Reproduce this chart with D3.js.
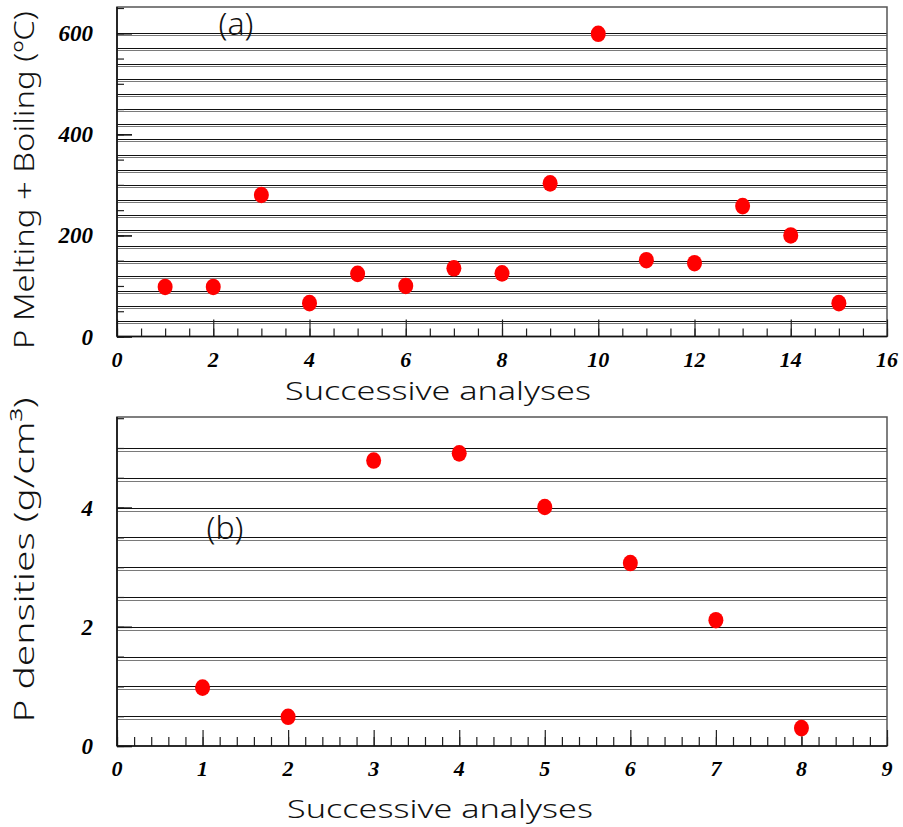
<!DOCTYPE html>
<html>
<head>
<meta charset="utf-8">
<script src="https://cdn.jsdelivr.net/npm/d3@7"></script>
<style>
  html, body { margin: 0; padding: 0; background: #fff; }
  svg { display: block; }
</style>
</head>
<body>
<svg id="chart" width="903" height="827"></svg>
<script>
// ---- Data ----
const analysesA = [1, 2, 3, 4, 5, 6, 7, 8, 9, 10, 11, 12, 13, 14, 15];
const meltBoil = [98, 98, 280, 66, 124, 100, 135, 125, 303, 599, 151, 145, 258, 200, 66];
const analysesB = [1, 2, 3, 4, 5, 6, 7, 8];
const densities = [0.98, 0.49, 4.79, 4.91, 4.01, 3.07, 2.11, 0.30];

const xTicksA = [0, 2, 4, 6, 8, 10, 12, 14, 16];
const yTicksA = [0, 200, 400, 600];
const xTicksB = [0, 1, 2, 3, 4, 5, 6, 7, 8, 9];
const yTicksB = [0, 2, 4];
const hLinesA = [30, 60, 90, 120, 150, 180, 210, 240, 270, 300, 330, 360, 390, 420, 450, 480, 510, 540, 570, 600];
const hLinesB = [0.5, 1.0, 1.5, 2.0, 2.5, 3.0, 3.5, 4.0, 4.5, 5.0];

const titleA = "(a)";
const titleB = "(b)";
const xTitle = "Successive analyses";
const yTitleA = "P Melting + Boiling (\u00BAC)";
const yTitleB = "P densities (g/cm\u00B3)";

const svg = d3.select("#chart");
const sansFont = "'Noto Sans', 'DejaVu Sans', sans-serif";
const numFont = "'Liberation Serif', 'DejaVu Serif', serif";

function panel(cfg) {
  const g = svg.append("g");
  const x = d3.scaleLinear().domain(cfg.xDomain).range([cfg.left, cfg.right]);
  const y = d3.scaleLinear().domain(cfg.yDomain).range([cfg.bottom, cfg.top]);

  // background horizontal line pairs
  const lines = g.append("g");
  lines.selectAll("line.k").data(cfg.hLines).join("line")
    .attr("x1", cfg.left).attr("x2", cfg.right)
    .attr("y1", d => Math.round(y(d)) + 0.5).attr("y2", d => Math.round(y(d)) + 0.5)
    .attr("stroke", "#111").attr("stroke-width", 1.2);
  lines.selectAll("line.g").data(cfg.hLines).join("line")
    .attr("x1", cfg.left).attr("x2", cfg.right)
    .attr("y1", d => Math.round(y(d)) + 0.5 + cfg.lineOffset).attr("y2", d => Math.round(y(d)) + 0.5 + cfg.lineOffset)
    .attr("stroke", "#7a7a7a").attr("stroke-width", 1.2);

  // frame
  g.append("rect")
    .attr("x", cfg.left).attr("y", cfg.top)
    .attr("width", cfg.right - cfg.left).attr("height", cfg.bottom - cfg.top)
    .attr("fill", "none").attr("stroke", "#555").attr("stroke-width", 1.5);

  // x axis: major + minor ticks pointing up
  const xMinor = d3.range(cfg.xDomain[0], cfg.xDomain[1] + 1e-9, cfg.xMinorStep);
  const xAxisMinor = d3.axisTop(x).tickValues(xMinor).tickSize(cfg.xMinorLen).tickFormat("");
  g.append("g").attr("transform", `translate(0,${cfg.bottom})`).call(xAxisMinor)
    .call(a => a.select(".domain").remove())
    .selectAll("line").attr("stroke", "#222").attr("stroke-width", 1.2);
  const xAxis = d3.axisTop(x).tickValues(cfg.xTicks).tickSize(cfg.xMajorLen).tickFormat("");
  g.append("g").attr("transform", `translate(0,${cfg.bottom})`).call(xAxis)
    .call(a => a.select(".domain").remove())
    .selectAll("line").attr("stroke", "#222").attr("stroke-width", 1.2);
  g.append("line").attr("x1", cfg.left).attr("x2", cfg.right)
    .attr("y1", cfg.bottom).attr("y2", cfg.bottom)
    .attr("stroke", "#111").attr("stroke-width", 1.6);

  // x tick labels
  g.append("g").selectAll("text").data(cfg.xTicks).join("text")
    .attr("x", d => x(d)).attr("y", cfg.bottom + 30)
    .attr("text-anchor", "middle")
    .attr("font-family", numFont).attr("font-weight", "bold").attr("font-style", "italic")
    .attr("font-size", 22).attr("fill", "#000")
    .text(d => d);

  // y axis ticks pointing right
  const yMinor = d3.range(cfg.yDomain[0], cfg.yDomain[1] + 1e-9, cfg.yMinorStep);
  const yAxisMinor = d3.axisRight(y).tickValues(yMinor).tickSize(cfg.yMinorLen).tickFormat("");
  g.append("g").attr("transform", `translate(${cfg.left},0)`).call(yAxisMinor)
    .call(a => a.select(".domain").remove())
    .selectAll("line").attr("stroke", "#222").attr("stroke-width", 1.2);
  const yAxis = d3.axisRight(y).tickValues(cfg.yTicks).tickSize(cfg.yMajorLen).tickFormat("");
  g.append("g").attr("transform", `translate(${cfg.left},0)`).call(yAxis)
    .call(a => a.select(".domain").remove())
    .selectAll("line").attr("stroke", "#111").attr("stroke-width", 1.6);
  g.append("line").attr("x1", cfg.left).attr("x2", cfg.left)
    .attr("y1", cfg.top).attr("y2", cfg.bottom)
    .attr("stroke", "#111").attr("stroke-width", 1.6);

  // y tick labels
  g.append("g").selectAll("text").data(cfg.yTicks).join("text")
    .attr("x", cfg.left - 24).attr("y", d => y(d) + 8)
    .attr("text-anchor", "end")
    .attr("font-family", numFont).attr("font-weight", "bold").attr("font-style", "italic")
    .attr("font-size", 23).attr("fill", "#000")
    .text(d => d);

  // points
  g.append("g").selectAll("ellipse").data(cfg.xs).join("ellipse")
    .attr("cx", d => x(d)).attr("cy", (d, i) => y(cfg.ys[i]))
    .attr("rx", 7.5).attr("ry", 8.3)
    .attr("fill", "#ff0000");

  // panel label
  g.append("text").attr("x", cfg.labelX).attr("y", cfg.labelY)
    .attr("text-anchor", "middle").attr("font-family", sansFont)
    .attr("font-size", 32).attr("font-weight", 300).attr("fill", "#111")
    .text(cfg.label);

  // axis titles
  g.append("text").attr("x", cfg.xTitleX).attr("y", cfg.xTitleY)
    .attr("text-anchor", "middle").attr("font-family", sansFont)
    .attr("font-size", 26).attr("font-weight", 300).attr("fill", "#111")
    .attr("textLength", cfg.xTitleLen).attr("lengthAdjust", "spacingAndGlyphs")
    .text(xTitle);
  g.append("text")
    .attr("transform", `translate(${cfg.yTitleX},${cfg.yTitleY}) rotate(-90)`)
    .attr("text-anchor", "middle").attr("font-family", sansFont)
    .attr("font-size", 28).attr("font-weight", 300).attr("fill", "#111")
    .attr("textLength", cfg.yTitleLen).attr("lengthAdjust", "spacingAndGlyphs")
    .text(cfg.yTitle);
}

panel({
  left: 117, right: 887, top: 7, bottom: 336.5,
  xDomain: [0, 16], yDomain: [0, 652],
  xTicks: xTicksA, yTicks: yTicksA,
  xMinorStep: 0.5, yMinorStep: 50,
  xMajorLen: 17, xMinorLen: 8, yMajorLen: 15, yMinorLen: 7,
  hLines: hLinesA, lineOffset: 2,
  xs: analysesA, ys: meltBoil,
  label: titleA, labelX: 236, labelY: 35,
  xTitleX: 438, xTitleY: 400, xTitleLen: 306,
  yTitle: yTitleA, yTitleX: 34, yTitleY: 180, yTitleLen: 338
});

panel({
  left: 117, right: 887, top: 417, bottom: 746,
  xDomain: [0, 9], yDomain: [0, 5.52],
  xTicks: xTicksB, yTicks: yTicksB,
  xMinorStep: 0.2, yMinorStep: 0.5,
  xMajorLen: 16, xMinorLen: 9, yMajorLen: 15, yMinorLen: 7,
  hLines: hLinesB, lineOffset: 3,
  xs: analysesB, ys: densities,
  label: titleB, labelX: 225, labelY: 539,
  xTitleX: 440, xTitleY: 818, xTitleLen: 306,
  yTitle: yTitleB, yTitleX: 34, yTitleY: 560, yTitleLen: 325
});
</script>
</body>
</html>
